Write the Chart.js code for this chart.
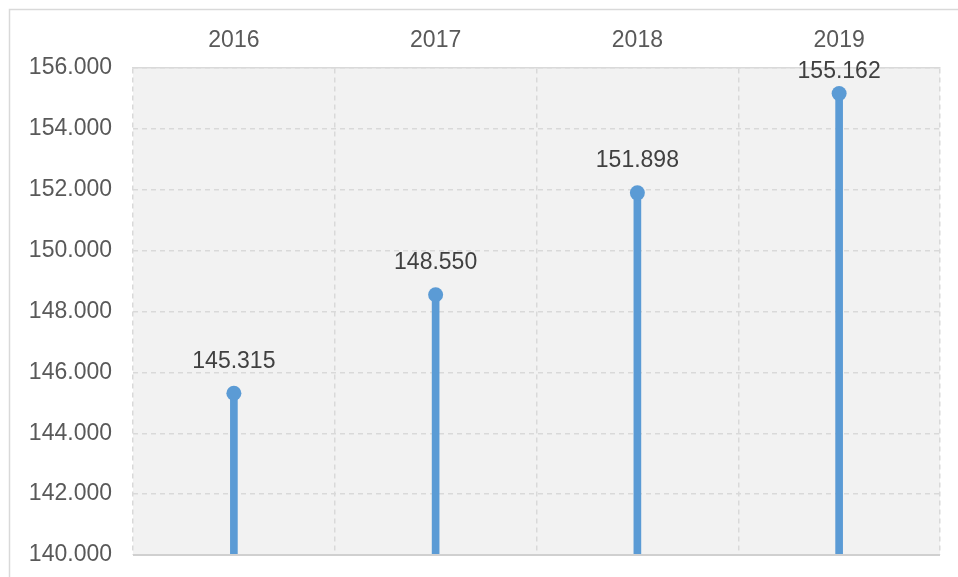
<!DOCTYPE html>
<html>
  <head>
    <title>Lollipop Chart</title>
    <script src="https://cdn.jsdelivr.net/npm/chart.js@4.4.1/dist/chart.umd.min.js"></script>
    <style>
      body { margin: 0; background: #ffffff; }
      #wrap { position: relative; width: 958px; height: 577px; }
    </style>
  </head>
  <body>
    <div id="wrap"><canvas id="myChart" width="958" height="577"></canvas></div>
    <script>
      // chart data
      var years = ["2016", "2017", "2018", "2019"];
      var values = [145315, 148550, 151898, 155162];
      var yMin = 140000;
      var yMax = 156000;
      var yStep = 2000;

      // 145315 -> "145.315"
      function fmt(v) {
        return String(Math.round(v)).replace(/\B(?=(\d{3})+(?!\d))/g, ".");
      }

      var fontFamily = "'Liberation Sans', Arial, sans-serif";

      // grey plot background + outer frame
      var backdrop = {
        id: "backdrop",
        beforeDraw: function (chart) {
          var c = chart.ctx, a = chart.chartArea;
          c.save();
          c.fillStyle = "#f2f2f2";
          c.fillRect(a.left, a.top, a.right - a.left, a.bottom - a.top);
          c.strokeStyle = "#d9d9d9";
          c.lineWidth = 1.5;
          c.strokeRect(9.5, 9.5, chart.width + 20, chart.height + 20);
          c.restore();
        },
        afterDraw: function (chart) {
          // solid bottom axis line
          var c = chart.ctx, a = chart.chartArea;
          c.save();
          c.strokeStyle = "#d0d0d0";
          c.lineWidth = 2;
          c.beginPath();
          c.moveTo(a.left, a.bottom);
          c.lineTo(a.right, a.bottom);
          c.stroke();
          c.restore();
        },
      };

      // value labels above the dots
      var valueLabels = {
        id: "valueLabels",
        afterDatasetsDraw: function (chart) {
          var c = chart.ctx, a = chart.chartArea;
          var meta = chart.getDatasetMeta(1);
          c.save();
          c.font = "23px " + fontFamily;
          c.fillStyle = "#404040";
          c.textAlign = "center";
          c.textBaseline = "middle";
          meta.data.forEach(function (pt, i) {
            var y = Math.max(pt.y - 32, a.top + 4);
            c.fillText(fmt(values[i]), pt.x, y);
          });
          c.restore();
        },
      };

      var ctx = document.getElementById("myChart").getContext("2d");
      var chart = new Chart(ctx, {
        type: "bar",
        data: {
          labels: years,
          datasets: [
            {
              type: "bar",
              data: values,
              backgroundColor: "#5b9bd5",
              barThickness: 7,
              order: 2,
            },
            {
              type: "line",
              data: values,
              showLine: false,
              pointRadius: 7.5,
              pointHoverRadius: 7.5,
              pointBackgroundColor: "#5b9bd5",
              pointBorderWidth: 0,
              borderColor: "#5b9bd5",
              clip: false,
              order: 1,
            },
          ],
        },
        options: {
          responsive: false,
          animation: false,
          layout: { padding: { left: 10, right: 18, top: 10, bottom: 22 } },
          plugins: { legend: { display: false }, tooltip: { enabled: false } },
          scales: {
            x: {
              position: "top",
              offset: true,
              grid: {
                offset: true,
                color: "#d9d9d9",
                lineWidth: 1.5,
                drawTicks: false,
              },
              border: { display: true, color: "#d9d9d9", dash: [5, 4], width: 1.5 },
              ticks: {
                color: "#595959",
                font: { size: 23, family: fontFamily },
                padding: 14,
              },
              afterFit: function (s) { s.height = 58; },
            },
            y: {
              min: yMin,
              max: yMax,
              grid: { color: "#d9d9d9", lineWidth: 1.5, drawTicks: false },
              border: { display: false, dash: [5, 4] },
              ticks: {
                stepSize: yStep,
                color: "#595959",
                font: { size: 23, family: fontFamily },
                padding: 21,
                callback: function (v) { return fmt(v); },
              },
              afterFit: function (s) {
                s.width = 123;
                s.paddingTop = 0;
                s.paddingBottom = 0;
              },
            },
          },
        },
        plugins: [backdrop, valueLabels],
      });
    </script>
  </body>
</html>
